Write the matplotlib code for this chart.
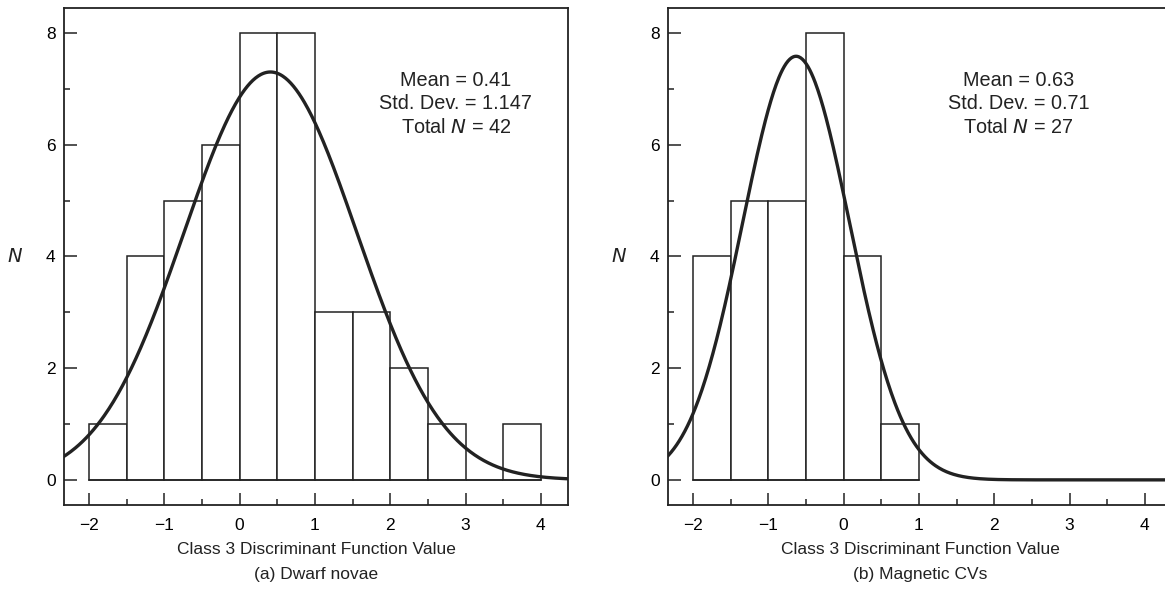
import matplotlib.pyplot as plt
import numpy as np

plt.rcParams["font.family"] = ["Liberation Sans", "DejaVu Sans"]

# histogram bins (width 0.5) and counts
edges_a = [-2.0, -1.5, -1.0, -0.5, 0.0, 0.5, 1.0, 1.5, 2.0, 2.5, 3.0, 3.5, 4.0]
counts_a = [1, 4, 5, 6, 8, 8, 3, 3, 2, 1, 0, 1]
mean_a, std_a, total_a = 0.41, 1.147, 42

edges_b = [-2.0, -1.5, -1.0, -0.5, 0.0, 0.5, 1.0]
counts_b = [4, 5, 5, 8, 4, 1]
center_b, std_b, total_b = -0.63, 0.71, 27

stats_a = ["Mean = 0.41", "Std. Dev. = 1.147", "Total $N$ = 42"]
stats_b = ["Mean = 0.63", "Std. Dev. = 0.71", "Total $N$ = 27"]
xlabel = "Class 3 Discriminant Function Value"
captions = ["(a) Dwarf novae", "(b) Magnetic CVs"]

fig = plt.figure(figsize=(11.65, 6), dpi=100)
W, H = 1165, 600
ax_a = fig.add_axes([64 / W, 1 - 505 / H, 504 / W, 497 / H])
ax_b = fig.add_axes([668 / W, 1 - 505 / H, 504 / W, 497 / H])


def normal_curve(x, mu, sd, n, width=0.5):
    return n * width / (sd * np.sqrt(2 * np.pi)) * np.exp(-0.5 * ((x - mu) / sd) ** 2)


def draw_panel(ax, edges, counts, mu, sd, n, stats, caption, text_x):
    edges = np.array(edges)
    ax.bar(edges[:-1], counts, width=np.diff(edges), align="edge",
           color="white", edgecolor="#222222", linewidth=1.1, zorder=2)
    ax.plot([edges[0], edges[-1]], [0, 0], color="#222222", lw=1.1, zorder=2)
    xs = np.linspace(-2.6, 4.6, 600)
    ax.plot(xs, normal_curve(xs, mu, sd, n), color="#222222", lw=2.4, zorder=3)

    ax.set_xlim(-2.33, 4.36)
    ax.set_ylim(-0.45, 8.45)
    ax.set_xticks([-2, -1, 0, 1, 2, 3, 4])
    ax.set_xticks(np.arange(-2, 4.01, 0.5), minor=True)
    ax.set_yticks([0, 2, 4, 6, 8])
    ax.set_yticks([1, 3, 5, 7], minor=True)
    ax.tick_params(which="both", direction="in", labelsize=12.5, color="#222222",
                   width=1.1, top=False, right=False)
    ax.tick_params(which="major", length=9)
    ax.tick_params(which="minor", length=4.5)
    ax.tick_params(axis="x", pad=9)
    ax.tick_params(axis="y", pad=6)
    for sp in ax.spines.values():
        sp.set_linewidth(1.3)
        sp.set_color("#222222")

    ax.text(text_x, 7.33, "\n".join(stats), ha="center", va="top",
            fontsize=14.3, linespacing=1.3, color="#222222")
    ax.set_xlabel(xlabel + "\n" + caption, fontsize=12.5, linespacing=1.8,
                  labelpad=7, color="#222222")
    ax.set_ylabel("$N$", fontsize=14, rotation=0, labelpad=22, va="center",
                  color="#222222")


draw_panel(ax_a, edges_a, counts_a, mean_a, std_a, total_a, stats_a, captions[0], 2.87)
draw_panel(ax_b, edges_b, counts_b, center_b, std_b, total_b, stats_b, captions[1], 2.32)
ax_b.spines["right"].set_visible(False)

fig.savefig("out.png", dpi=100)
